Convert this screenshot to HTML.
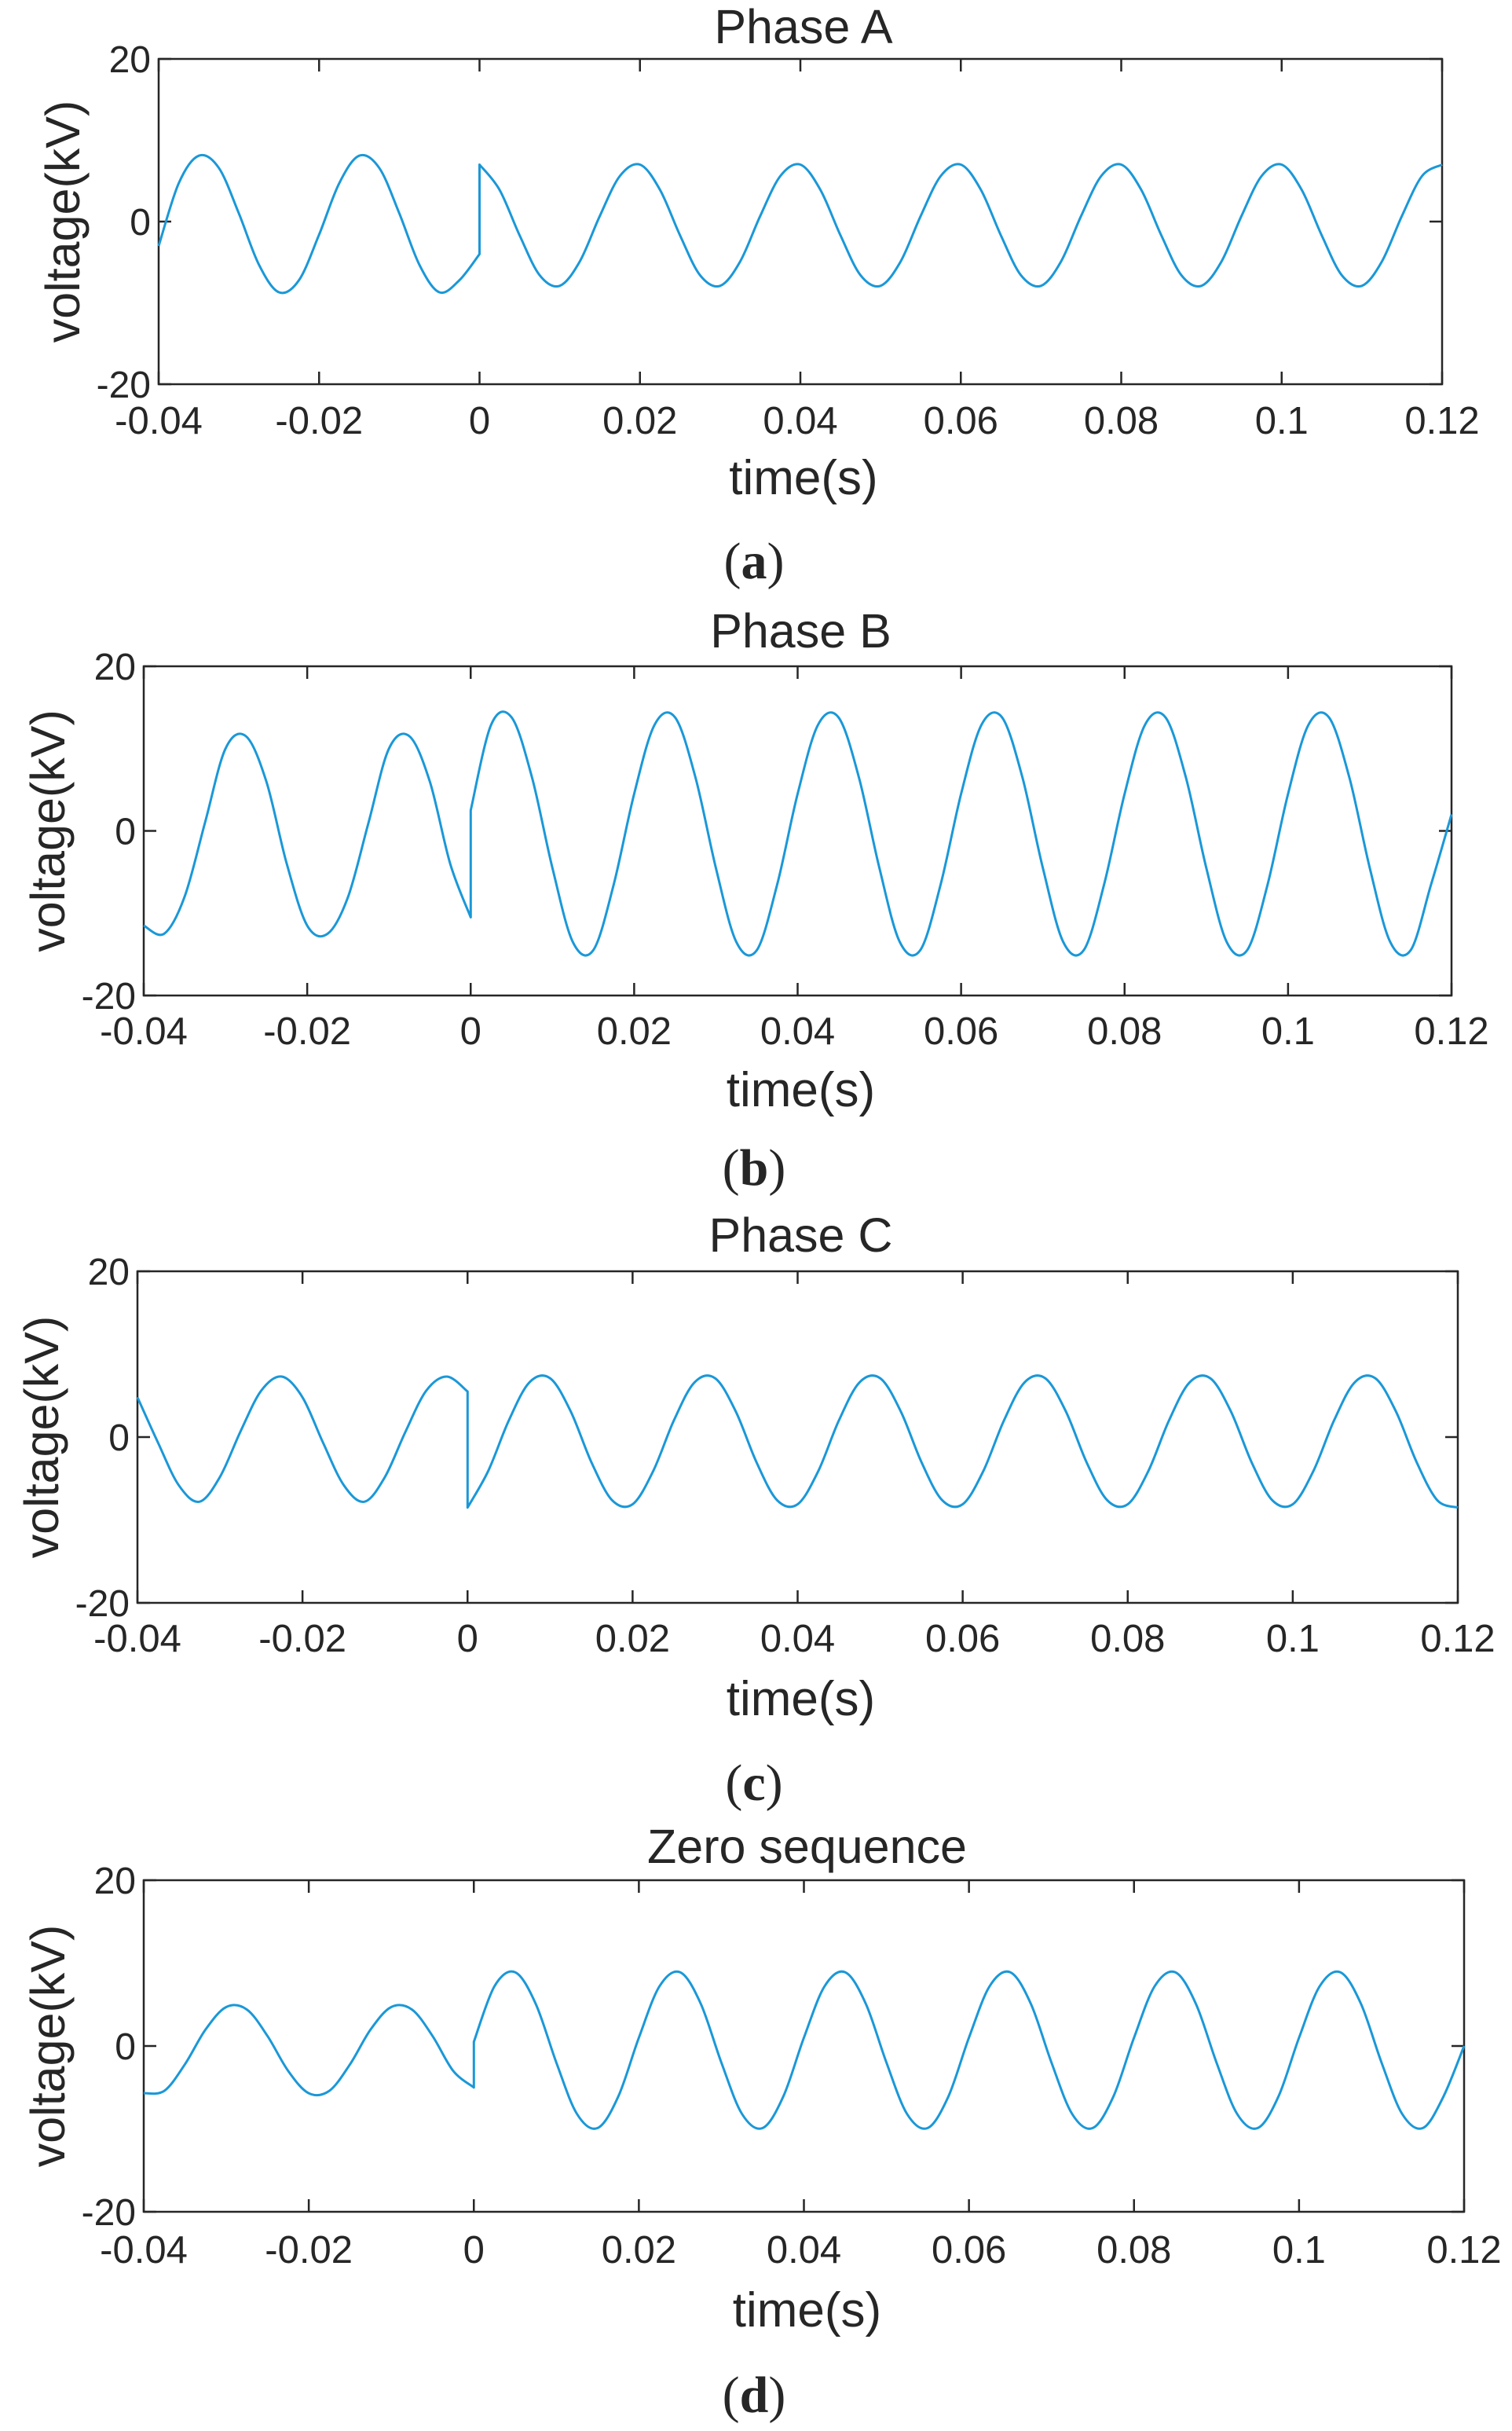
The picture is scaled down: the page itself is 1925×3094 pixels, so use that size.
<!DOCTYPE html>
<html><head><meta charset="utf-8"><style>
html,body{margin:0;padding:0;background:#fff;}
svg{display:block;}
text{font-family:"Liberation Sans",Arial,sans-serif;fill:#262626;}
</style></head>
<body>
<svg id="fig" width="1925" height="3094" viewBox="0 0 1925 3094" xmlns="http://www.w3.org/2000/svg"></svg>
<script>
const xTicks = [-0.04,-0.02,0,0.02,0.04,0.06,0.08,0.1,0.12];
const xTickLabels = ["-0.04","-0.02","0","0.02","0.04","0.06","0.08","0.1","0.12"];
const yTicks = [-20,0,20];
const yTickLabels = ["-20","0","20"];
const panelTitles = ["Phase A","Phase B","Phase C","Zero sequence"];
const panelLetters = ["a","b","c","d"];
const preTimes = [-0.04,-0.0375,-0.035,-0.0325,-0.03,-0.0275,-0.025,-0.0225,-0.02,-0.0175,-0.015,-0.0125,-0.01,-0.0075,-0.005,-0.0025,0];
const postTimes = [0,0.0025,0.005,0.0075,0.01,0.0125,0.015,0.0175,0.02,0.0225,0.025,0.0275,0.03,0.0325,0.035,0.0375,0.04,0.0425,0.045,0.0475,0.05,0.0525,0.055,0.0575,0.06,0.0625,0.065,0.0675,0.07,0.0725,0.075,0.0775,0.08,0.0825,0.085,0.0875,0.09,0.0925,0.095,0.0975,0.1,0.1025,0.105,0.1075,0.11,0.1125,0.115,0.1175,0.12];
const aPre = [-3,4.7,8.1,6.6,1,-5.3,-8.7,-7.2,-1.6,4.7,8.1,6.6,1,-5.3,-8.7,-7.2,-4];
const aPost = [7,3.9,-1.7,-6.6,-7.9,-4.9,0.7,5.6, 7,3.9,-1.7,-6.6,-7.9,-4.9,0.7,5.6, 7,3.9,-1.7,-6.6,-7.9,-4.9,0.7,5.6, 7,3.9,-1.7,-6.6,-7.9,-4.9,0.7,5.6, 7,3.9,-1.7,-6.6,-7.9,-4.9,0.7,5.6, 7,3.9,-1.7,-6.6,-7.9,-4.9,0.7,5.6, 7];
const bPre = [-11.5,-12.5,-8,1,10,11.5,6,-4,-11.5,-12.5,-8,1,10,11.5,6,-4,-10.5];
const bPost = [2.5,12.9,13.8,6.5,-4.5,-13.5,-14.5,-6.5, 4.5,12.9,13.8,6.5,-4.5,-13.5,-14.5,-6.5, 4.5,12.9,13.8,6.5,-4.5,-13.5,-14.5,-6.5, 4.5,12.9,13.8,6.5,-4.5,-13.5,-14.5,-6.5, 4.5,12.9,13.8,6.5,-4.5,-13.5,-14.5,-6.5, 4.5,12.9,13.8,6.5,-4.5,-13.5,-14.5,-6.5, 2];
const cPre = [4.8,-0.7,-5.8,-7.8,-4.8,0.7,5.6,7.3,4.8,-0.7,-5.8,-7.8,-4.8,0.7,5.6,7.3,5.5];
const cPost = [-8.5,-4.1,2,6.6,7.1,3.1,-3,-7.6, -8.1,-4.1,2,6.6,7.1,3.1,-3,-7.6, -8.1,-4.1,2,6.6,7.1,3.1,-3,-7.6, -8.1,-4.1,2,6.6,7.1,3.1,-3,-7.6, -8.1,-4.1,2,6.6,7.1,3.1,-3,-7.6, -8.1,-4.1,2,6.6,7.1,3.1,-3,-7.6, -8.5];
const dPre = [-5.7,-5.4,-2.2,2,4.7,4.4,1.2,-3,-5.7,-5.4,-2.2,2,4.7,4.4,1.2,-3,-5];
const dPost = [0.5,7.2,8.9,5.1,-2,-8.2,-9.9,-6.1, 1,7.2,8.9,5.1,-2,-8.2,-9.9,-6.1, 1,7.2,8.9,5.1,-2,-8.2,-9.9,-6.1, 1,7.2,8.9,5.1,-2,-8.2,-9.9,-6.1, 1,7.2,8.9,5.1,-2,-8.2,-9.9,-6.1, 1,7.2,8.9,5.1,-2,-8.2,-9.9,-6.1, 0];
const preSeries = [aPre,bPre,cPre,dPre];
const postSeries = [aPost,bPost,cPost,dPost];

const layout = [
 {l:202,r:1836,t:75,b:489,title:34,tick:535,xl:608,let:714},
 {l:183,r:1848,t:848,b:1267,title:803,tick:1312,xl:1387,let:1486},
 {l:175,r:1856,t:1618,b:2040,title:1572,tick:2085,xl:2162,let:2269},
 {l:183,r:1864,t:2393,b:2815,title:2350,tick:2863,xl:2940,let:3048}
];
const NS="http://www.w3.org/2000/svg";
const svg=document.getElementById('fig');
function mk(tag,attrs,parent){const e=document.createElementNS(NS,tag);for(const k in attrs)e.setAttribute(k,attrs[k]);(parent||svg).appendChild(e);return e;}
function smoothPath(pts){
  let d="M"+pts[0][0].toFixed(1)+","+pts[0][1].toFixed(1);
  for(let i=0;i<pts.length-1;i++){
    const p0=pts[Math.max(0,i-1)],p1=pts[i],p2=pts[i+1],p3=pts[Math.min(pts.length-1,i+2)];
    const c1=[p1[0]+(p2[0]-p0[0])/6,p1[1]+(p2[1]-p0[1])/6];
    const c2=[p2[0]-(p3[0]-p1[0])/6,p2[1]-(p3[1]-p1[1])/6];
    d+=" C"+c1[0].toFixed(1)+","+c1[1].toFixed(1)+" "+c2[0].toFixed(1)+","+c2[1].toFixed(1)+" "+p2[0].toFixed(1)+","+p2[1].toFixed(1);
  }
  return d;
}
layout.forEach((L,pi)=>{
  const g=mk('g',{});
  
  
  const xs=v=>L.l+(v-(-0.04))/(0.16)*(L.r-L.l);
  const ys=v=>L.b-(v+20)/40*(L.b-L.t);
  const box=mk('rect',{x:L.l,y:L.t,width:L.r-L.l,height:L.b-L.t,fill:'none',stroke:'#262626','stroke-width':2.5},g);
  
  
  xTicks.forEach((v,i)=>{
    const x=xs(v);
    mk('line',{x1:x,x2:x,y1:L.b,y2:L.b-16,stroke:'#262626','stroke-width':2.5},g);
    mk('line',{x1:x,x2:x,y1:L.t,y2:L.t+16,stroke:'#262626','stroke-width':2.5},g);
    const t=mk('text',{x:x,y:L.tick+17,'font-size':49,'text-anchor':'middle'},g);
    t.textContent=xTickLabels[i];
    
    
  });
  yTicks.forEach((v,i)=>{
    const y=ys(v);
    mk('line',{x1:L.l,x2:L.l+16,y1:y,y2:y,stroke:'#262626','stroke-width':2.5},g);
    mk('line',{x1:L.r,x2:L.r-16,y1:y,y2:y,stroke:'#262626','stroke-width':2.5},g);
    const t=mk('text',{x:L.l-10,y:y+17,'font-size':48,'text-anchor':'end'},g);
    t.textContent=yTickLabels[i];
    
    
  });
  const pre=preTimes.map((t,i)=>[xs(t),ys(preSeries[pi][i])]);
  const post=postTimes.map((t,i)=>[xs(t),ys(postSeries[pi][i])]);
  const d=smoothPath(pre)+" L"+post[0][0].toFixed(1)+","+post[0][1].toFixed(1)+" "+smoothPath(post).slice(1).replace(/^[^C]*/,'');
  const line=mk('path',{d:d,fill:'none',stroke:'#1a98d8','stroke-width':3,'stroke-linejoin':'round'},g);
  
  
  const cx=(L.l+L.r)/2;
  const tt=mk('text',{x:cx+4,y:L.title+21,'font-size':61,'text-anchor':'middle'},g);
  tt.textContent=panelTitles[pi];
  
  
  const xl=mk('text',{x:cx+4,y:L.xl+21,'font-size':62,'text-anchor':'middle'},g);
  xl.textContent='time(s)';
  
  
  const ymid=(L.t+L.b)/2;
  const yl=mk('text',{x:0,y:0,'font-size':61,'text-anchor':'middle',transform:'translate('+(L.l-101)+','+ymid+') rotate(-90)'},g);
  yl.textContent='voltage(kV)';
  
  
  const lt=mk('text',{x:960,y:L.let+22,'font-size':66,'text-anchor':'middle'},g);
  lt.innerHTML='(<tspan font-weight="bold">'+panelLetters[pi]+'</tspan>)';
  lt.style.fontFamily='"Liberation Serif",serif';
  
  
});
</script>
</body></html>
